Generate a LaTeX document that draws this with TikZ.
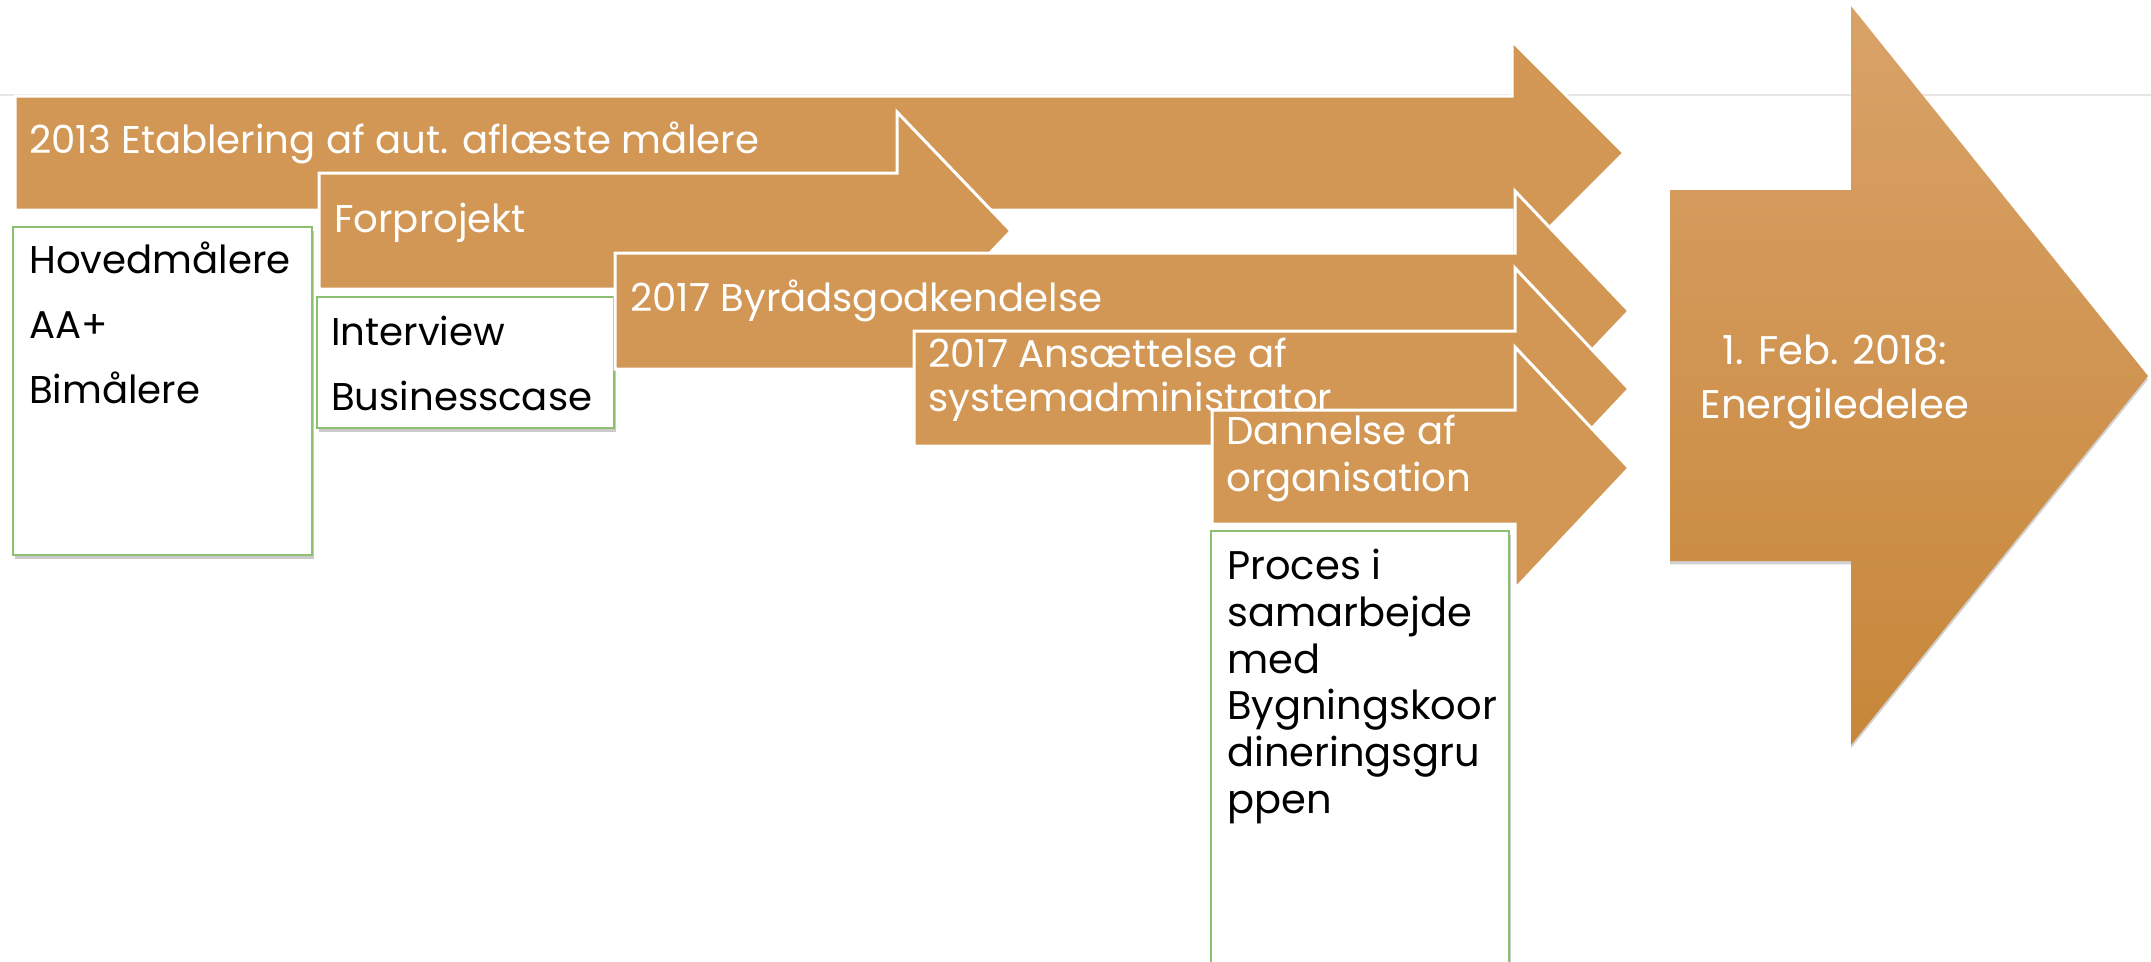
\documentclass[tikz,border=0pt]{standalone}
\usepackage{fontspec}
\setmainfont{Poppins}
\usetikzlibrary{shadows}
\definecolor{arrowtan}{RGB}{210,151,84}
\definecolor{bigtop}{RGB}{217,162,104}
\definecolor{bigbot}{RGB}{199,135,58}
\definecolor{boxgreen}{RGB}{140,191,110}
\definecolor{slideline}{RGB}{232,230,228}
\begin{document}
\begin{tikzpicture}[x=0.75pt,y=0.75pt,yscale=-1,xscale=1,
    arrowshape/.style={fill=arrowtan, draw=white, line width=2.25pt, line join=miter},
    notebox/.style={fill=white, draw=boxgreen, line width=0.9pt, drop shadow={shadow xshift=1.5pt, shadow yshift=-3pt, opacity=0.35, fill=black!60}},
    arrowtext/.style={anchor=base west, inner sep=0.75pt, align=left, text=white, font=\fontsize{29}{33}\selectfont},
    boxtext/.style={anchor=base west, inner sep=0.75pt, align=left, text=black, font=\fontsize{29}{48.75}\selectfont}]
        \useasboundingbox (0,0) rectangle (2151,961);
        %Straight Lines: slide edge
        \draw [color=slideline, line width=1.5pt]  (0,95) -- (2151,95) ;
        
        %Shape: Right Arrow 2013
        \draw [arrowshape]  (15,96) -- (1512,96) -- (1512,41) -- (1624,153) -- (1512,265) -- (1512,210) -- (15,210) -- cycle ;
        % Text Node
        \node (etablering) [arrowtext] at (28,153) {2013 Etablering af aut. aflæste målere};
        %Shape: Rectangle
        \draw [notebox]  (13,227) rectangle (312,555) ;
        % Text Node (base = last line)
        \node (maalere) [boxtext] at (28,403) {Hovedmålere\\AA+\\Bimålere};
        
        %Shape: Right Arrow Forprojekt
        \draw [arrowshape]  (319,173) -- (897,173) -- (897,112) -- (1011,231) -- (897,350) -- (897,289) -- (319,289) -- cycle ;
        % Text Node
        \node (forprojekt) [arrowtext] at (333,232) {Forprojekt};
        %Shape: Rectangle
        \draw [notebox]  (317,297) rectangle (614,428) ;
        % Text Node
        \node (interview) [boxtext] at (330,410) {Interview\\Businesscase};
        
        %Shape: Right Arrow 2017
        \draw [arrowshape]  (615,253) -- (1515,253) -- (1515,191) -- (1629,311) -- (1515,431) -- (1515,369) -- (615,369) -- cycle ;
        % Text Node
        \node (byraad) [arrowtext] at (629,311) {2017 Byrådsgodkendelse};
        
        %Shape: Right Arrow 2017
        \draw [arrowshape]  (914,331) -- (1515,331) -- (1515,268) -- (1629,389) -- (1515,510) -- (1515,446) -- (914,446) -- cycle ;
        % Text Node
        \node (ansaettelse) [arrowtext] at (927,411) {2017 Ansættelse af\\systemadministrator};
        
        %Shape: Right Arrow Dannelse
        \draw [arrowshape]  (1212,410) -- (1515,410) -- (1515,347) -- (1629,468) -- (1515,589) -- (1515,524) -- (1212,524) -- cycle ;
        % Text Node
        \node (dannelse) [arrowtext, font=\fontsize{29}{35}\selectfont] at (1225,491) {Dannelse af\\organisation};
        %Shape: Rectangle
        \draw [notebox]  (1211,531) rectangle (1509,966) ;
        % Text Node
        \node (proces) [boxtext, font=\fontsize{30}{35}\selectfont] at (1226,813) {Proces i\\samarbejde\\med\\Bygningskoor\\dineringsgru\\ppen};
        
        %Shape: Right Arrow 2018
        \path [top color=bigtop, bottom color=bigbot, drop shadow={shadow xshift=0pt, shadow yshift=-2.5pt, opacity=0.3, fill=black!60}]  (1670,190) -- (1851,190) -- (1851,6) -- (2148,376) -- (1851,745) -- (1851,561) -- (1670,561) -- cycle ;
        % Text Node
        \node (energi) [anchor=base, inner sep=0.75pt, align=center, text=white, font=\fontsize{30}{40}\selectfont] at (1835,418) {1. Feb. 2018:\\Energiledelee};
\end{tikzpicture}
\end{document}
